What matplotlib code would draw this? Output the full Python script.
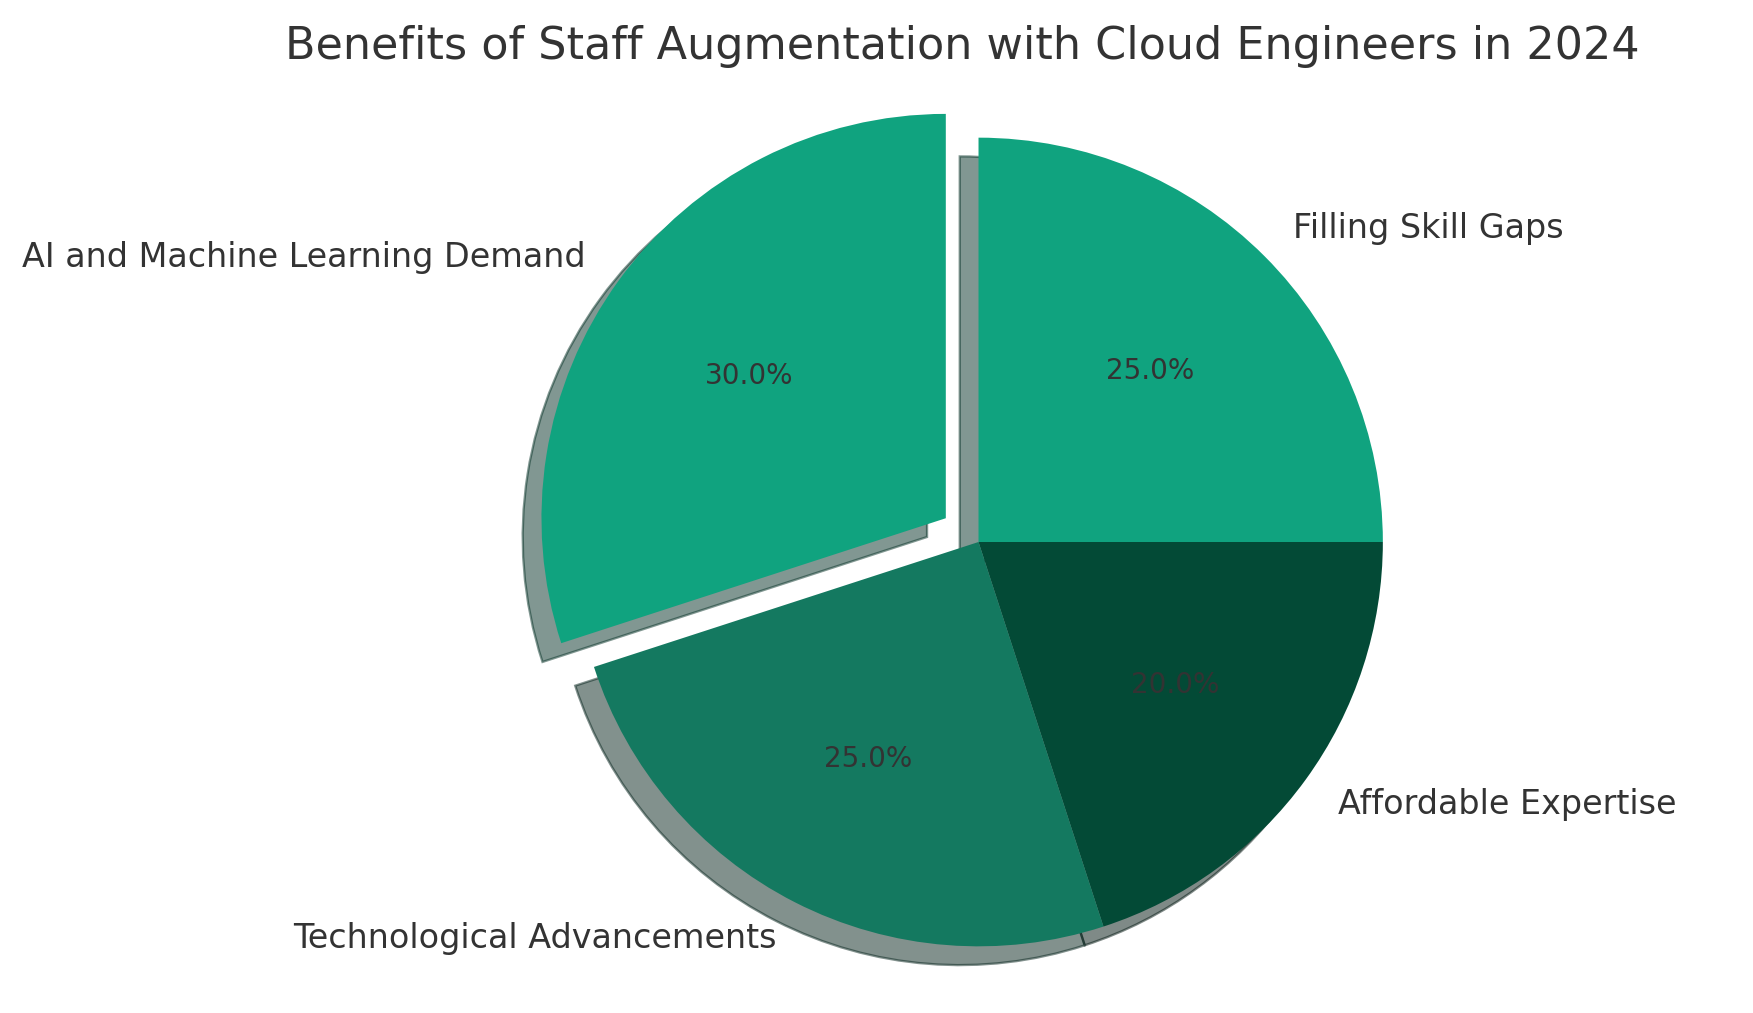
import matplotlib.pyplot as plt

labels = ['Filling Skill Gaps', 'Affordable Expertise',
          'Technological Advancements', 'AI and Machine Learning Demand']
sizes = [25, 20, 25, 30]
colors = ['#10a37f', '#034a36', '#147960', '#10a37f']
explode = [0, 0, 0, 0.1]

plt.rcParams['text.color'] = '#333333'

fig, ax = plt.subplots(figsize=(10.5, 6.07), dpi=167)
wedges, texts, autotexts = ax.pie(sizes, labels=labels, colors=colors, explode=explode,
                                  autopct='%1.1f%%', startangle=90, counterclock=False,
                                  shadow=True, textprops={'fontsize': 14.4})
for t in autotexts:
    t.set_fontsize(12)
ax.set_title('Benefits of Staff Augmentation with Cloud Engineers in 2024', fontsize=19.2)
ax.axis('equal')
plt.tight_layout()
# nudge the whole axes a bit to the left
sp = fig.subplotpars
shift = 17 / 1754
fig.subplots_adjust(left=sp.left - shift, right=sp.right - shift)
plt.savefig('out.png')
